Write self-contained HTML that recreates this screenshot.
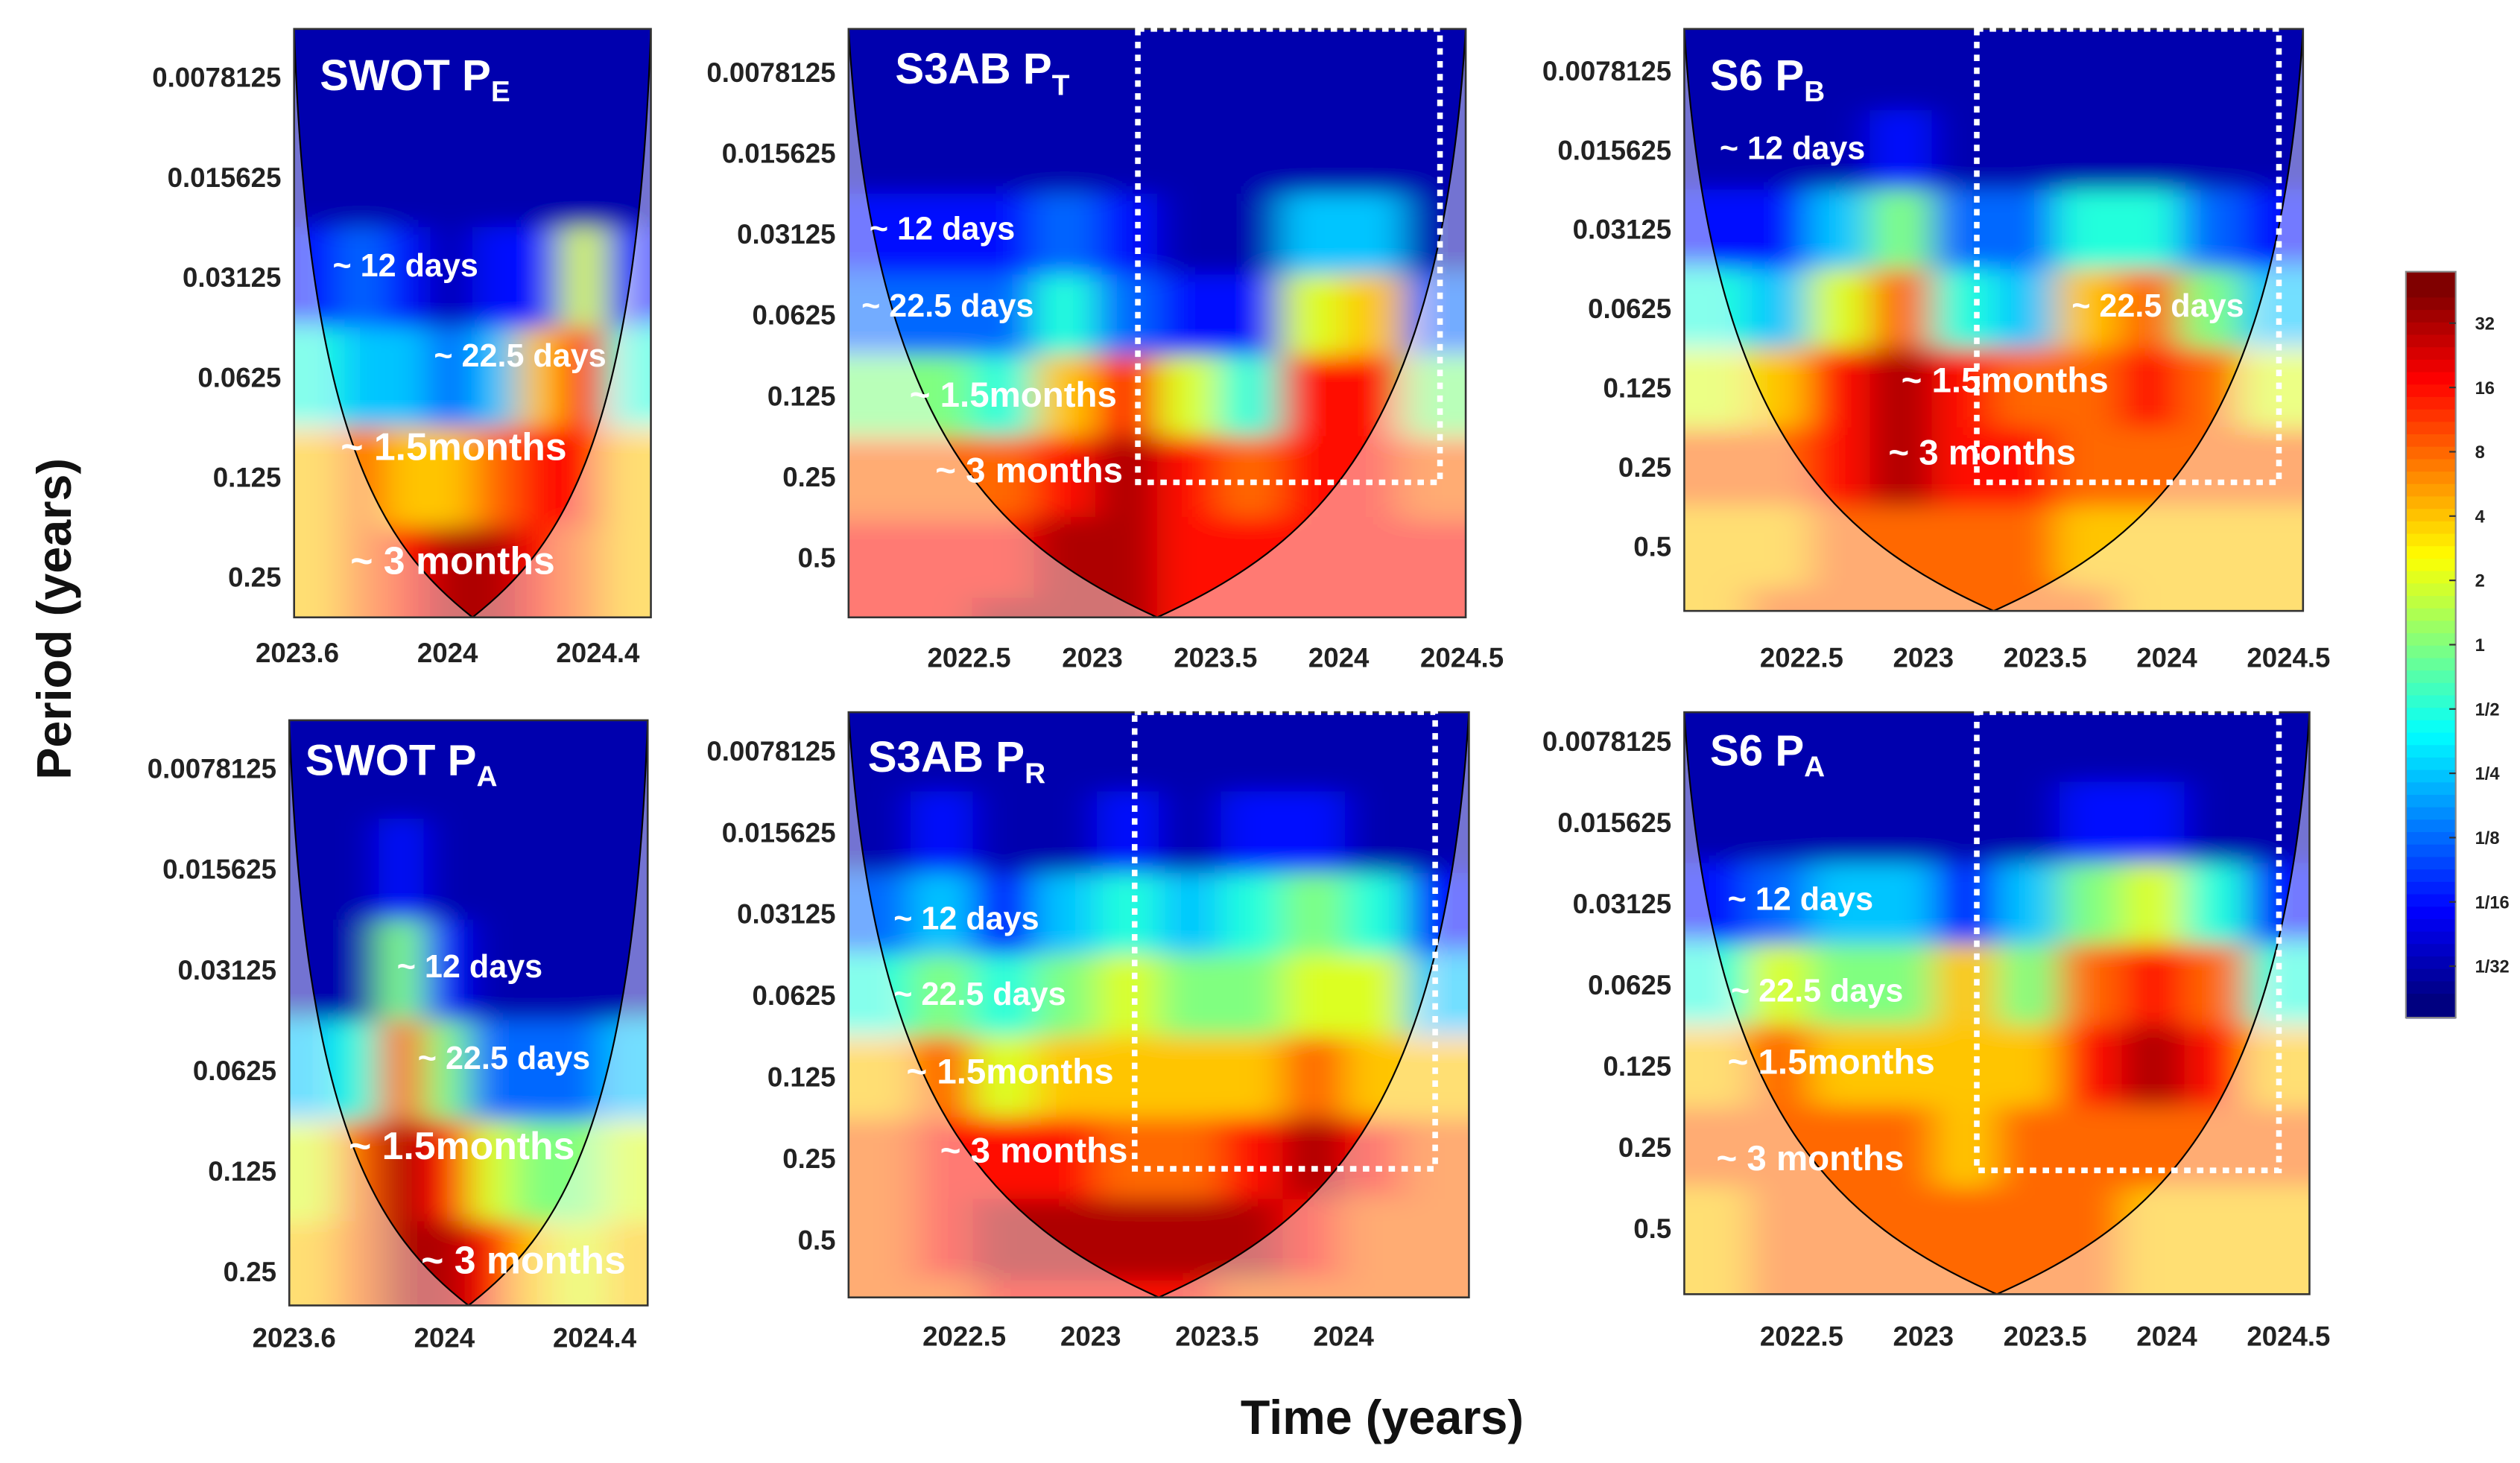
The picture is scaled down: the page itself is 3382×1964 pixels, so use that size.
<!DOCTYPE html>
<html><head><meta charset="utf-8">
<style>
html,body{margin:0;padding:0;background:#fff}
svg{display:block}
text{font-family:"Liberation Sans",sans-serif;font-weight:bold}
</style></head>
<body>
<svg id="fig" width="3382" height="1964" viewBox="0 0 1568 910" preserveAspectRatio="none" xmlns="http://www.w3.org/2000/svg">
<defs>
<filter id="blur" x="-10%" y="-10%" width="120%" height="120%"><feGaussianBlur stdDeviation="12 7"/></filter>
</defs>
<text transform="translate(44,385) rotate(-90)" text-anchor="middle" font-size="30" fill="#111">Period (years)</text>
<text x="860" y="892" text-anchor="middle" font-size="30" fill="#111">Time (years)</text>
</svg>
<script>
// ---- data ----
const powerRows = [-7,-6,-5,-4,-3,-2,-1,0];   // log2(period) of each power row
const p1Power = [
 [-5,-5,-5,-5,-5,-5,-5,-5],[-5,-5,-5,-5,-5,-5,-5,-5],[-4,-3,-4,-5,-4,-4,1,-4],
 [-1,-2,-2,-3,-2,2,4,-1],[2,3,2,2,3,4,4,2],[2,3,4,5,5,4,3,2],[2,3,4,5,5,4,3,2]];
const p2Power = [
 [-5,-5,-5,-5,-5,-5,-5,-5,-5,-5],[-5,-5,-5,-5,-5,-5,-5,-5,-5,-5],[-4,-4,-4,-3,-4,-5,-5,-2,-2,-5],
 [-3,-3,-3,-1,-3,-4,-4,1,2,-3],[0,0,-1,2,4,1,-1,4,4,0],[3,3,3,4,5,4,3,4,4,3],
 [4,4,4,5,5,4,4,4,4,4],[4,4,5,5,5,4,4,4,4,4]];
const p3Power = [
 [-5,-5,-5,-5,-5,-5,-5,-5,-5,-5],[-5,-5,-5,-4,-5,-5,-5,-5,-5,-5],[-4,-4,-2,0,-3,-3,-1,-1,-3,-4],
 [-1,-2,1,3,-1,-2,2,3,0,-2],[1,2,4,5,4,3,3,4,3,1],[3,3,4,5,4,4,3,3,3,3],
 [2,2,3,3,3,3,2,2,2,2],[2,3,3,3,3,3,3,2,2,2]];
const p4Power = [
 [-5,-5,-5,-5,-5,-5,-5,-5],[-5,-5,-4,-5,-5,-5,-5,-5],[-5,-5,0,-4,-5,-5,-5,-5],
 [-2,-1,3,0,-3,-3,-3,-2],[1,3,5,4,1,0,0,1],[2,3,5,5,4,2,1,2],[3,3,4,5,5,3,3,3]];
const p5Power = [
 [-5,-5,-5,-5,-5,-5,-5,-5,-5,-5],[-5,-4,-5,-5,-4,-5,-4,-4,-5,-5],[-3,-2,-4,-2,-1,-2,-1,0,-1,-4],
 [-1,0,-1,0,1,0,0,1,1,-2],[2,3,1,2,2,2,2,3,2,2],[3,4,4,4,3,3,4,5,4,3],
 [3,4,5,5,5,5,5,4,3,3],[3,3,4,4,4,4,3,3,3,3]];
const p6Power = [
 [-5,-5,-5,-5,-5,-5,-5,-5,-5,-5],[-5,-5,-5,-5,-5,-5,-4,-4,-5,-5],[-4,-3,-2,-2,-4,-2,0,1,-1,-4],
 [-1,1,0,0,2,0,3,4,3,-1],[2,3,2,2,2,2,4,5,4,2],[3,3,3,3,2,3,3,3,3,3],
 [2,3,3,3,3,3,3,2,2,2],[2,3,3,3,3,3,3,2,2,2]];
const swotPeriodTicks = [0.0078125,0.015625,0.03125,0.0625,0.125,0.25];
const s3PeriodTicks = [0.0078125,0.015625,0.03125,0.0625,0.125,0.25,0.5];
const swotTimeTicks = [2023.6,2024,2024.4];
const s3TimeTicks = [2022.5,2023,2023.5,2024];
const s6TimeTicks = [2022.5,2023,2023.5,2024,2024.5];
const s3TopTimeTicks = [2022.5,2023,2023.5,2024,2024.5];
const colorbarTicks = ["32","16","8","4","2","1","1/2","1/4","1/8","1/16","1/32"];
const colorbarValues = [5,4,3,2,1,0,-1,-2,-3,-4,-5];

// ---- layout ----
const panels = [
 {name:"swot-pe",title:"SWOT P",sub:"E",x0:183,x1:405,y0:18,y1:384,t0:2023.6,tx0:185,tx1:372,t1:2024.4,py:48,oct:62.2,ticks:swotPeriodTicks,tt:swotTimeTicks,tly:412,power:p1Power,box:null,
  ann:[["~ 12 days",207,172,20],["~ 22.5 days",270,228,20],["~ 1.5months",212,286,24],["~ 3 months",218,357,24]],tpos:[199,56]},
 {name:"s3ab-pt",title:"S3AB P",sub:"T",x0:528,x1:912,y0:18,y1:384,t0:2022.5,tx0:603,tx1:833,t1:2024,py:45,oct:50.3,ticks:s3PeriodTicks,tt:s3TopTimeTicks,tly:415,power:p2Power,box:[708,18,896,300],
  ann:[["~ 12 days",541,149,20],["~ 22.5 days",536,197,20],["~ 1.5months",566,253,22],["~ 3 months",582,300,22]],tpos:[557,52]},
 {name:"s6-pb",title:"S6 P",sub:"B",x0:1048,x1:1433,y0:18,y1:380,t0:2022.5,tx0:1121,tx1:1424,t1:2024.5,py:44,oct:49.3,ticks:s3PeriodTicks,tt:s6TimeTicks,tly:415,power:p3Power,box:[1230,18,1418,300],
  ann:[["~ 12 days",1070,99,20],["~ 22.5 days",1289,197,20],["~ 1.5months",1183,244,22],["~ 3 months",1175,289,22]],tpos:[1064,56]},
 {name:"swot-pa",title:"SWOT P",sub:"A",x0:180,x1:403,y0:448,y1:812,t0:2023.6,tx0:183,tx1:370,t1:2024.4,py:478,oct:62.6,ticks:swotPeriodTicks,tt:swotTimeTicks,tly:838,power:p4Power,box:null,
  ann:[["~ 12 days",247,608,20],["~ 22.5 days",260,665,20],["~ 1.5months",217,721,24],["~ 3 months",262,792,24]],tpos:[190,482]},
 {name:"s3ab-pr",title:"S3AB P",sub:"R",x0:528,x1:914,y0:443,y1:807,t0:2022.5,tx0:600,tx1:836,t1:2024,py:467,oct:50.7,ticks:s3PeriodTicks,tt:s3TimeTicks,tly:837,power:p5Power,box:[706,443,893,727],
  ann:[["~ 12 days",556,578,20],["~ 22.5 days",556,625,20],["~ 1.5months",564,674,22],["~ 3 months",585,723,22]],tpos:[540,480]},
 {name:"s6-pa",title:"S6 P",sub:"A",x0:1048,x1:1437,y0:443,y1:805,t0:2022.5,tx0:1121,tx1:1424,t1:2024.5,py:461,oct:50.5,ticks:s3PeriodTicks,tt:s6TimeTicks,tly:837,power:p6Power,box:[1230,443,1418,728],
  ann:[["~ 12 days",1075,566,20],["~ 22.5 days",1077,623,20],["~ 1.5months",1075,668,22],["~ 3 months",1068,728,22]],tpos:[1064,476]}
];
const NS="http://www.w3.org/2000/svg";
const svg=document.getElementById('fig');
function mk(tag,attrs,parent){const e=document.createElementNS(NS,tag);for(const k in attrs)e.setAttribute(k,attrs[k]);(parent||svg).appendChild(e);return e;}
function jet(v){let t=(v+5.5)/11;t=Math.max(0,Math.min(1,t));const c=x=>Math.round(255*Math.max(0,Math.min(1,1.5-Math.abs(4*t-x))));return `rgb(${c(3)},${c(2)},${c(1)})`;}

panels.forEach((p,i)=>{
  const yScale=per=>p.py+(Math.log2(per)+7)*p.oct;
  const xScale=t=>p.tx0+(t-p.t0)*(p.tx1-p.tx0)/(p.t1-p.t0);
  const g=mk('g',{});
  
  
  const cid='clip'+i;
  const cp=mk('clipPath',{id:cid},g);mk('rect',{x:p.x0,y:p.y0,width:p.x1-p.x0,height:p.y1-p.y0},cp);
  const cg=mk('g',{'clip-path':`url(#${cid})`},g);
  mk('rect',{x:p.x0,y:p.y0,width:p.x1-p.x0,height:p.y1-p.y0,fill:'#00008f'},cg);
  const hg=mk('g',{filter:'url(#blur)'},cg);
  const nr=p.power.length,nc=p.power[0].length,cw=(p.x1-p.x0)/nc;
  p.power.forEach((row,r)=>{
    const yc=yScale(Math.pow(2,powerRows[r]));
    let top=yc-p.oct/2,h=p.oct;
    if(r===0){top=p.y0-30;h=yc+p.oct/2-top;}
    if(r===nr-1){h=p.y1+30-top;}
    row.forEach((v,c)=>{
      let x=p.x0+c*cw,w=cw;
      if(c===0){x-=30;w+=30;} if(c===nc-1){w+=30;}
      const cell=mk('rect',{x:x,y:top,width:w+0.5,height:h+0.5,fill:jet(v)},hg);
      
      
    });
  });
  const W=p.x1-p.x0,H=p.y1-p.y0,xc=(p.x0+p.x1)/2;
  const cone=`M${p.x0},${p.y0} C${p.x0+W*0.04},${p.y0+H*0.7} ${xc-W*0.25},${p.y1-H*0.12} ${xc},${p.y1} C${xc+W*0.25},${p.y1-H*0.12} ${p.x1-W*0.04},${p.y0+H*0.7} ${p.x1},${p.y0}`;
  const ov=mk('path',{d:`M${p.x0},${p.y0} L${p.x0},${p.y1} L${p.x1},${p.y1} L${p.x1},${p.y0} ${cone.replace('M','L')} Z`,fill:'#ffffff','fill-opacity':0.45,'fill-rule':'evenodd'},cg);
  
  
  const cl=mk('path',{d:cone,fill:'none',stroke:'#000','stroke-width':1},cg);
  
  
  mk('rect',{x:p.x0,y:p.y0,width:W,height:H,fill:'none',stroke:'#333','stroke-width':1.2},g);
  if(p.box){const b=mk('rect',{x:p.box[0],y:p.box[1],width:p.box[2]-p.box[0],height:p.box[3]-p.box[1],fill:'none',stroke:'#fff','stroke-width':3.5,'stroke-dasharray':'4 4'},g);
    
    }
  p.ticks.forEach(tv=>{
    const y=yScale(tv);
    const t=mk('text',{x:p.x0-8,y:y+6,'text-anchor':'end','font-size':17,fill:'#222'},g);t.textContent=String(tv);
    
    
  });
  p.tt.forEach(tv=>{
    const x=xScale(tv);
    const t=mk('text',{x:x,y:p.tly,'text-anchor':'middle','font-size':17,fill:'#222'},g);t.textContent=String(tv);
    
    
  });
  const tt=mk('text',{x:p.tpos[0],y:p.tpos[1],'font-size':27,fill:'#fff'},g);
  
  
  tt.appendChild(document.createTextNode(p.title));
  const ts=mk('tspan',{'font-size':18,dy:7},tt);ts.textContent=p.sub;
  p.ann.forEach(a=>{
    const t=mk('text',{x:a[1],y:a[2],'font-size':a[3],fill:'#fff'},g);t.textContent=a[0];
    
    
  });
});
const cb=mk('g',{});


const cbY0=169,cbY1=633,cbX=1497,cbW=31;
const cbScale=v=>cbY1-(v+5.8)/11.6*(cbY1-cbY0);
for(let k=0;k<60;k++){const v0=-5.8+k*11.6/60;mk('rect',{x:cbX,y:cbScale(v0+11.6/60),width:cbW,height:(cbY1-cbY0)/60+0.6,fill:jet(v0+0.1)},cb);}
mk('rect',{x:cbX,y:cbY0,width:cbW,height:cbY1-cbY0,fill:'none',stroke:'#888','stroke-width':1},cb);
colorbarValues.forEach((v,k)=>{
  const y=cbScale(v);
  mk('line',{x1:cbX+cbW-4,x2:cbX+cbW,y1:y,y2:y,stroke:'#333'},cb);
  const t=mk('text',{x:cbX+cbW+12,y:y+4,'font-size':11,fill:'#222'},cb);t.textContent=colorbarTicks[k];
  
  
});
</script>
</body></html>
